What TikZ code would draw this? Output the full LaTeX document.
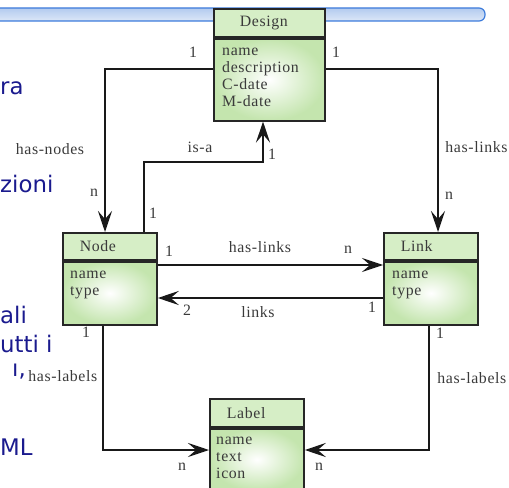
\documentclass[tikz,border=0pt]{standalone}
\usepackage{fontspec}
\setmainfont{Liberation Serif}
\newfontfamily\umlfont[LetterSpace=4.0]{Liberation Serif}
\newfontfamily\slidefont{DejaVu Sans}
\usetikzlibrary{positioning,arrows.meta}

\definecolor{slideblue}{HTML}{1A1A8E}
\definecolor{barblue}{HTML}{3C7BDB}
\definecolor{bartop}{HTML}{B3CBEF}
\definecolor{barbot}{HTML}{DCE7F7}
\definecolor{clsgreen}{HTML}{C4E5AE}
\definecolor{titlegreen}{HTML}{D6EEC6}
\definecolor{umltext}{HTML}{3A3A3A}

\newcommand{\umlsize}{\umlfont\fontsize{13.5}{14.45}\selectfont}

\begin{document}
\begin{tikzpicture}[x=0.03cm, y=-0.03cm,
  cls/.style={draw=black!85, line width=1.5pt, inner sep=0pt},
  hd/.style={cls, fill=titlegreen, anchor=north west, align=left,
             font=\umlsize, text=umltext,
             inner xsep=0.51cm, text width=1.8cm, minimum height=0.81cm},
  bd/.style={cls, shading=radial, inner color=white, outer color=clsgreen,
             minimum width=2.82cm, minimum height=1.89cm, below=0pt of #1},
  attrs/.style={anchor=north west, align=left, inner sep=0pt,
                font=\umlsize, text=umltext},
  uml/.style={font=\umlsize, text=umltext, inner sep=1pt},
  assoc/.style={draw=black!90, line width=1.3pt,
                -{Stealth[length=18pt, width=12pt, inset=7pt]}},
  slide/.style={font=\slidefont\fontsize{19.5}{22}\selectfont, text=slideblue,
                anchor=base west, inner sep=0pt},
]
  \useasboundingbox (0,0) rectangle (509,488);
  \clip (0,0) rectangle (509,488);

  % slide underneath
  \draw[draw=barblue, line width=1pt, top color=bartop, bottom color=barbot,
        rounded corners=5] (-20,8) rectangle (485,21);
  \node[slide] (s1) at (0,95)  {ra};
  \node[slide] (s2) at (0,193) {zioni};
  \node[slide] (s3) at (0,323) {ali};
  \node[slide] (s4) at (0,352) {utti i};
  \node[slide] (s5) at (12,376) {ı,};
  \node[slide] (s6) at (0,455) {ML};

  % --- classes ---
  \node[hd, inner xsep=0.78cm, text width=1.77cm, minimum height=0.84cm]
        (dsg) at (213,8) {Design};
  \node[bd=dsg, minimum width=3.33cm, minimum height=2.46cm] (dsgb) {};
  \node[attrs] (dsga) at ([shift={(9,10)}]dsgb.north west)
        {name\\description\\C-date\\M-date};

  \node[hd] (nod) at (62,232) {Node};
  \node[bd=nod] (nodb) {};
  \node[attrs] (noda) at ([shift={(8,10)}]nodb.north west) {name\\type};

  \node[hd] (lnk) at (383,232) {Link};
  \node[bd=lnk] (lnkb) {};
  \node[attrs] (lnka) at ([shift={(9,10)}]lnkb.north west) {name\\type};

  \node[hd, minimum height=0.84cm] (lbl) at (209,398) {Label};
  \node[bd=lbl, minimum height=1.86cm] (lblb) {};
  \node[attrs] (lbla) at ([shift={(7,9)}]lblb.north west) {name\\text\\icon};

  % --- bends ---
  \coordinate (hn)   at (105,69);
  \coordinate (hl)   at (438,69);
  \coordinate (isa1) at (144,162);
  \coordinate (isa2) at (263,162);
  \coordinate (nl)   at (0,265);
  \coordinate (lk)   at (0,298);
  \coordinate (nlab) at (103,450);
  \coordinate (llab) at (429,450);

  % --- connectors ---
  \draw[assoc] (dsgb.west |- hn) -- (hn) -- (hn |- nod.north);
  \draw[assoc] (dsgb.east |- hl) -- (hl) -- (hl |- lnk.north);
  \draw[assoc] (isa1 |- nod.north) -- (isa1) -- (isa2) -- (isa2 |- dsgb.south);
  \draw[assoc] (nodb.east |- nl) -- (lnkb.west |- nl);
  \draw[assoc] (lnkb.west |- lk) -- (nodb.east |- lk);
  \draw[assoc] (nodb.south -| nlab) -- (nlab) -- (lblb.west |- nlab);
  \draw[assoc] (lnkb.south -| llab) -- (llab) -- (lblb.east |- llab);

  % --- labels ---
  \node[uml] (m1)  at (193,52)  {1};
  \node[uml] (m2)  at (336,52)  {1};
  \node[uml] (r1)  at (50,149)  {has-nodes};
  \node[uml] (m3)  at (94,193)  {n};
  \node[uml] (r2)  at (200,147) {is-a};
  \node[uml] (m4)  at (272,154) {1};
  \node[uml] (m5)  at (153,213) {1};
  \node[uml, anchor=west] (r3) at (444,147) {has-links};
  \node[uml] (m6)  at (449,196) {n};
  \node[uml] (m7)  at (169,251) {1};
  \node[uml] (r4)  at (260,247) {has-links};
  \node[uml] (m8)  at (348,250) {n};
  \node[uml] (m9)  at (187,310) {2};
  \node[uml] (r5)  at (258,312) {links};
  \node[uml] (m10) at (372,307) {1};
  \node[uml] (m11) at (86,332)  {1};
  \node[uml] (m12) at (440,333) {1};
  \node[uml, anchor=west] (r6) at (27,376)  {has-labels};
  \node[uml, anchor=west] (r7) at (436,378) {has-labels};
  \node[uml] (m13) at (182,467) {n};
  \node[uml] (m14) at (319,467) {n};
\end{tikzpicture}
\end{document}
